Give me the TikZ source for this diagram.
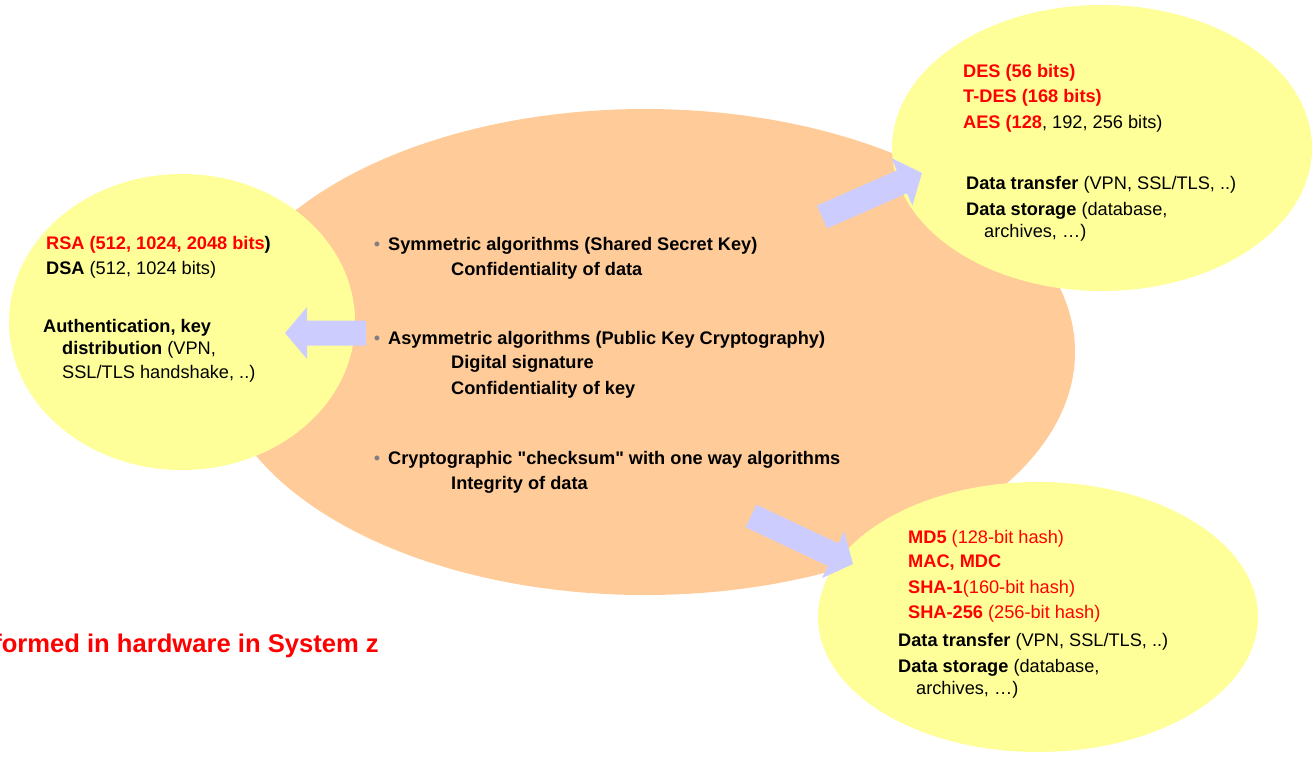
\documentclass[tikz,border=0pt]{standalone}
\usepackage{fontspec}
\setmainfont{Liberation Sans}[Ligatures=TeXOff]
\usetikzlibrary{shapes.geometric,calc}

\definecolor{corefill}{HTML}{FFCC99}
\definecolor{leaffill}{HTML}{FFFF99}
\definecolor{arrowfill}{HTML}{CCCCFF}
\definecolor{keyred}{HTML}{FF0000}
\definecolor{bulletgray}{HTML}{808080}

% block arrow from a named tail coordinate to a named tip coordinate
\newcommand\blockarrow[3]{%
  \coordinate (#3-base) at ($(#2)!22pt!(#1)$);
  \fill[arrowfill]
    ($(#1)!12.5pt!90:(#2)$) -- ($(#3-base)!12.5pt!90:(#2)$) --
    ($(#3-base)!26pt!90:(#2)$) -- (#2) --
    ($(#3-base)!26pt!-90:(#2)$) -- ($(#3-base)!12.5pt!-90:(#2)$) --
    ($(#1)!12.5pt!-90:(#2)$) -- cycle;
}

\tikzset{
  blob/.style={ellipse, inner sep=0pt, draw=none},
  txt/.style={anchor=base west, inner sep=0pt, font=\fontsize{18.2}{24}\selectfont},
  bul/.style={anchor=base, inner sep=0pt, text=bulletgray, font=\fontsize{18.2}{24}\selectfont},
}

\begin{document}
\begin{tikzpicture}[x=1pt,y=-1pt]
\useasboundingbox (0,0) rectangle (1316,756);
\clip (0,0) rectangle (1316,756);

% central area and the three satellite areas
\node[blob, fill=corefill, minimum width=860pt, minimum height=486pt] (core) at (645,352) {};
\node[blob, fill=leaffill, minimum width=346pt, minimum height=296pt] (asym) at (182,322) {};
\node[blob, fill=leaffill, minimum width=420pt, minimum height=286pt] (symm) at (1102,148) {};
\node[blob, fill=leaffill, minimum width=440pt, minimum height=270pt] (hash) at (1038,617) {};

% arrows
\coordinate (la-tail) at (366,333);
\coordinate (la-tip)  at (285,333);
\coordinate (ua-tail) at (822,217);
\coordinate (ua-tip)  at (922,173);
\coordinate (da-tail) at (751,516);
\coordinate (da-tip)  at (853,564);
\blockarrow{la-tail}{la-tip}{la}
\blockarrow{ua-tail}{ua-tip}{ua}
\blockarrow{da-tail}{da-tip}{da}

% central list
\node[bul] (b1) at (377,250.5) {•};
\node[txt] (t1) at (388,250.5) {\textbf{Symmetric algorithms (Shared Secret Key)}};
\node[txt] (t1a) at (451,275.5) {\textbf{Confidentiality of data}};
\node[bul] (b2) at (377,344.5) {•};
\node[txt] (t2) at (388,344.5) {\textbf{Asymmetric algorithms (Public Key Cryptography)}};
\node[txt] (t2a) at (451,368.5) {\textbf{Digital signature}};
\node[txt] (t2b) at (451,394.5) {\textbf{Confidentiality of key}};
\node[bul] (b3) at (377,464.5) {•};
\node[txt] (t3) at (388,464.5) {\textbf{Cryptographic "checksum" with one way algorithms}};
\node[txt] (t3a) at (451,489.5) {\textbf{Integrity of data}};

% public key side
\node[txt] (rsa) at (46,249.5) {\textbf{\textcolor{keyred}{RSA (512, 1024, 2048 bits})}};
\node[txt] (dsa) at (46,274.5) {\textbf{DSA} (512, 1024 bits)};
\node[txt] (auth) at (43,332.5) {\textbf{Authentication, key}};
\node[txt] (dist) at (62,354.5) {\textbf{distribution} (VPN,};
\node[txt] (hand) at (62,378.5) {SSL/TLS handshake, ..)};

% shared secret side
\node[txt, text=keyred] (des) at (963,77.5) {\textbf{DES (56 bits)}};
\node[txt, text=keyred] (tdes) at (963,102.5) {\textbf{T-DES (168 bits)}};
\node[txt] (aes) at (963,128.5) {\textcolor{keyred}{\textbf{AES (128}}, 192, 256 bits)};
\node[txt] (xfer1) at (966,189.5) {\textbf{Data transfer} (VPN, SSL/TLS, ..)};
\node[txt] (stor1) at (966,215.5) {\textbf{Data storage} (database,};
\node[txt] (arch1) at (984,237.5) {archives, …)};

% hash side
\node[txt, text=keyred] (md5) at (908,543.5) {\textbf{MD5} (128-bit hash)};
\node[txt, text=keyred] (mac) at (908,567.5) {\textbf{MAC, MDC}};
\node[txt, text=keyred] (sha1) at (908,593.5) {\textbf{SHA-1}(160-bit hash)};
\node[txt, text=keyred] (sha2) at (908,618.5) {\textbf{SHA-256} (256-bit hash)};
\node[txt] (xfer2) at (898,646.5) {\textbf{Data transfer} (VPN, SSL/TLS, ..)};
\node[txt] (stor2) at (898,672.5) {\textbf{Data storage} (database,};
\node[txt] (arch2) at (916,694.5) {archives, …)};

% footnote, running off the left edge
\node[anchor=base east, inner sep=0pt, text=keyred, font=\fontsize{25.6}{30}\selectfont\bfseries] (hw) at (379,652) {Performed in hardware in System z};
\end{tikzpicture}
\end{document}
